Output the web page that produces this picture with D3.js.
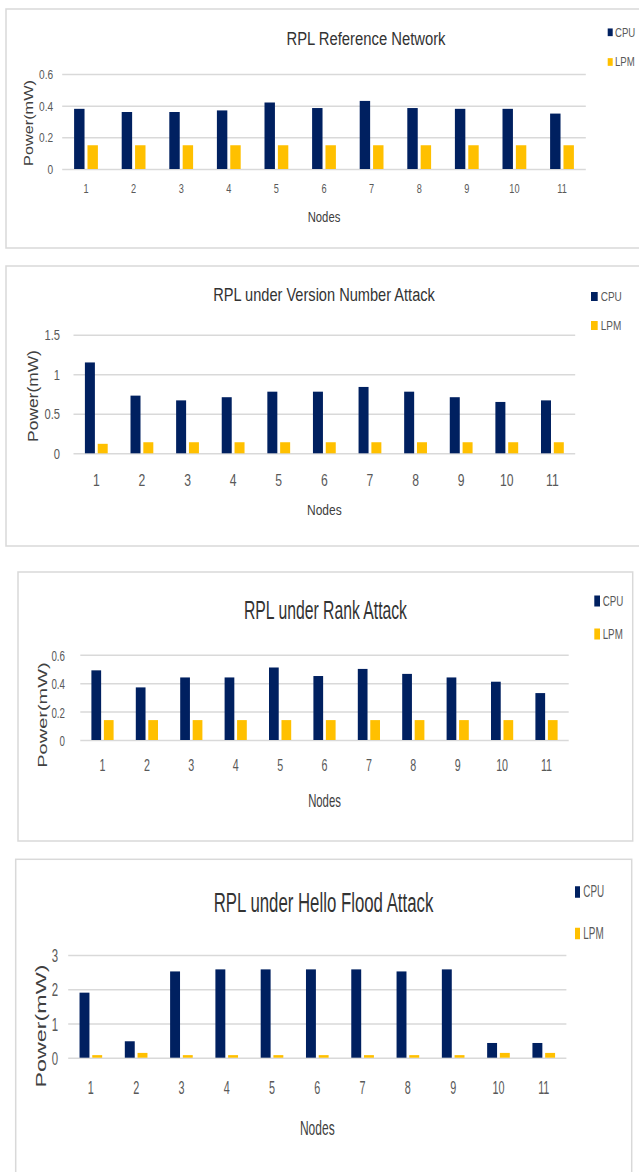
<!DOCTYPE html>
<html>
<head>
<meta charset="utf-8">
<script src="https://cdn.jsdelivr.net/npm/d3@7"></script>
<style>
  body { margin: 0; background: #fff; }
  text { font-family: "Liberation Sans", Arial, sans-serif; }
</style>
</head>
<body>
<svg id="chart" width="639" height="1172"></svg>
<script>
// Categories and series
const nodes = ['1', '2', '3', '4', '5', '6', '7', '8', '9', '10', '11'];
const seriesNames = ['CPU', 'LPM'];

// Power values (mW)
const refCpu = [0.38, 0.36, 0.36, 0.37, 0.42, 0.385, 0.43, 0.385, 0.38, 0.38, 0.35];
const refLpm = [0.15, 0.15, 0.15, 0.15, 0.15, 0.15, 0.15, 0.15, 0.15, 0.15, 0.15];
const versionCpu = [1.15, 0.73, 0.67, 0.71, 0.78, 0.78, 0.84, 0.78, 0.71, 0.65, 0.67];
const versionLpm = [0.12, 0.14, 0.14, 0.14, 0.14, 0.14, 0.14, 0.14, 0.14, 0.14, 0.14];
const rankCpu = [0.49, 0.37, 0.44, 0.44, 0.51, 0.45, 0.50, 0.465, 0.44, 0.41, 0.33];
const rankLpm = [0.14, 0.14, 0.14, 0.14, 0.14, 0.14, 0.14, 0.14, 0.14, 0.14, 0.14];
const floodCpu = [1.9, 0.48, 2.52, 2.58, 2.58, 2.58, 2.58, 2.52, 2.58, 0.43, 0.43];
const floodLpm = [0.075, 0.14, 0.075, 0.075, 0.075, 0.075, 0.075, 0.075, 0.075, 0.14, 0.14];

// Tick values for each y axis
const refTicks = [0, 0.2, 0.4, 0.6];
const versionTicks = [0, 0.5, 1, 1.5];
const rankTicks = [0, 0.2, 0.4, 0.6];
const floodTicks = [0, 1, 2, 3];

const titles = [
    'RPL Reference Network',
    'RPL under Version Number Attack',
    'RPL under Rank Attack',
    'RPL under Hello Flood Attack'
];
const xTitle = 'Nodes';
const yTitle = 'Power(mW)';

const colors = { CPU: '#002060', LPM: '#FFC000' };

// Panel layouts (the picture is squeezed horizontally, hence sx)
const layouts = [
    { box: [6, 9, 640, 239], plot: [62.2, 585.8, 169, 74], sx: 0.78,
      title: [366, 39, 19], tickSize: 13, tickGap: 9, catY: 188, catSize: 13.5, catSx: 0.68,
      nodesY: 217, nodesSize: 14.5, yLab: [29, 123, 16.3],
      legend: { sqX: 607.7, sqW: 5, sqH: 7.7, textX: 615, ys: [32.3, 62], size: 12.3 } },
    { box: [6, 266, 640, 280], plot: [73.5, 575.2, 453.3, 334.8], sx: 0.8,
      title: [324, 295, 18.25], tickSize: 14, tickGap: 13.5, catY: 480, catSize: 16, catSx: 0.76,
      nodesY: 510, nodesSize: 15, yLab: [33, 396, 17.4],
      legend: { sqX: 591, sqW: 6.7, sqH: 9, textX: 600.7, ys: [296.5, 325.5], size: 12.5 } },
    { box: [18, 572, 614.7, 269], plot: [80.3, 568.7, 740, 654.7], sx: 0.63,
      title: [325.5, 610, 25], tickSize: 15.5, tickGap: 15.3, catY: 765, catSize: 17, catSx: 0.63,
      nodesY: 800, nodesSize: 18, yLab: [43, 715, 20],
      legend: { sqX: 594.3, sqW: 5.7, sqH: 11, textX: 602.7, ys: [601, 634], size: 15.5 } },
    { box: [15.7, 859.3, 616, 330], plot: [68.2, 566.4, 1057.7, 955], sx: 0.6,
      title: [323.5, 902, 28], tickSize: 19, tickGap: 10, catY: 1087, catSize: 19, catSx: 0.57,
      nodesY: 1128, nodesSize: 20, yLab: [41.7, 1026, 23.3],
      legend: { sqX: 575, sqW: 5, sqH: 11.5, textX: 583.3, ys: [892, 933.5], size: 16.5 } }
];

const panels = [
    { cpu: refCpu, lpm: refLpm, ticks: refTicks },
    { cpu: versionCpu, lpm: versionLpm, ticks: versionTicks },
    { cpu: rankCpu, lpm: rankLpm, ticks: rankTicks },
    { cpu: floodCpu, lpm: floodLpm, ticks: floodTicks }
];

const svg = d3.select('#chart');
svg.append('rect').attr('width', 639).attr('height', 1172).attr('fill', '#fff');

function drawPanel(panel, lay, title) {
    const [px0, px1, py0, py1] = lay.plot;
    const sx = lay.sx;
    const g = svg.append('g');

    // Panel frame
    g.append('rect')
        .attr('x', lay.box[0]).attr('y', lay.box[1])
        .attr('width', lay.box[2]).attr('height', lay.box[3])
        .attr('fill', 'none')
        .attr('stroke', '#d9d9d9')
        .attr('stroke-width', 1.5);

    const rows = nodes.map((n, i) => ({ node: n, CPU: panel.cpu[i], LPM: panel.lpm[i] }));

    const x0 = d3.scaleBand().domain(nodes).range([px0, px1])
        .paddingInner(0.5).paddingOuter(0.25);
    const x1 = d3.scaleBand().domain(seriesNames).range([0, x0.bandwidth()])
        .paddingInner(0.22);
    const y = d3.scaleLinear()
        .domain([0, d3.max(panel.ticks)])
        .range([py0, py1]);

    // Y axis with gridlines
    const yAxis = g.append('g')
        .attr('transform', `translate(${px0},0)`)
        .call(d3.axisLeft(y).tickValues(panel.ticks).tickSize(-(px1 - px0)).tickFormat(d => String(d)));
    yAxis.select('.domain').remove();
    yAxis.selectAll('line').attr('stroke', '#d9d9d9').attr('stroke-width', 1.5);
    yAxis.selectAll('text')
        .attr('x', -lay.tickGap / sx)
        .attr('dy', '0.35em')
        .attr('transform', `scale(${sx},1)`)
        .attr('fill', '#595959')
        .style('font-size', lay.tickSize + 'px')
        .style('font-family', '"Liberation Sans", Arial, sans-serif');

    // Category axis
    const xAxis = g.append('g')
        .attr('transform', `translate(0,${lay.catY})`)
        .call(d3.axisBottom(x0).tickSize(0));
    xAxis.select('.domain').remove();
    xAxis.selectAll('text')
        .attr('y', 0)
        .attr('dy', '0.35em')
        .attr('transform', `scale(${lay.catSx},1)`)
        .attr('fill', '#595959')
        .style('font-size', lay.catSize + 'px')
        .style('font-family', '"Liberation Sans", Arial, sans-serif');

    // Bars
    const groups = g.selectAll('.grp')
        .data(rows)
        .enter()
        .append('g')
        .attr('transform', d => `translate(${x0(d.node)},0)`);
    groups.selectAll('rect')
        .data(d => seriesNames.map(s => ({ key: s, value: d[s] })))
        .enter()
        .append('rect')
        .attr('x', d => x1(d.key))
        .attr('width', x1.bandwidth())
        .attr('y', d => y(d.value))
        .attr('height', d => y(0) - y(d.value))
        .attr('fill', d => colors[d.key]);

    // Title
    g.append('text')
        .attr('transform', `translate(${lay.title[0]},${lay.title[1]}) scale(${sx},1)`)
        .attr('text-anchor', 'middle')
        .attr('dominant-baseline', 'central')
        .attr('fill', '#333')
        .style('font-size', lay.title[2] + 'px')
        .text(title);

    // Axis titles
    g.append('text')
        .attr('transform', `translate(${(px0 + px1) / 2},${lay.nodesY}) scale(${sx},1)`)
        .attr('text-anchor', 'middle')
        .attr('dominant-baseline', 'central')
        .attr('fill', '#404040')
        .style('font-size', lay.nodesSize + 'px')
        .text(xTitle);

    g.append('text')
        .attr('transform', `translate(${lay.yLab[0]},${lay.yLab[1]}) scale(${sx},1) rotate(-90)`)
        .attr('text-anchor', 'middle')
        .attr('dominant-baseline', 'central')
        .attr('fill', '#404040')
        .style('font-size', lay.yLab[2] + 'px')
        .text(yTitle);

    // Legend
    const lg = lay.legend;
    seriesNames.forEach((s, i) => {
        g.append('rect')
            .attr('x', lg.sqX)
            .attr('y', lg.ys[i] - lg.sqH / 2)
            .attr('width', lg.sqW)
            .attr('height', lg.sqH)
            .attr('fill', colors[s]);
        g.append('text')
            .attr('transform', `translate(${lg.textX},${lg.ys[i]}) scale(${sx},1)`)
            .attr('dominant-baseline', 'central')
            .attr('fill', '#595959')
            .style('font-size', lg.size + 'px')
            .text(s);
    });
}

panels.forEach((p, i) => drawPanel(p, layouts[i], titles[i]));
</script>
</body>
</html>
